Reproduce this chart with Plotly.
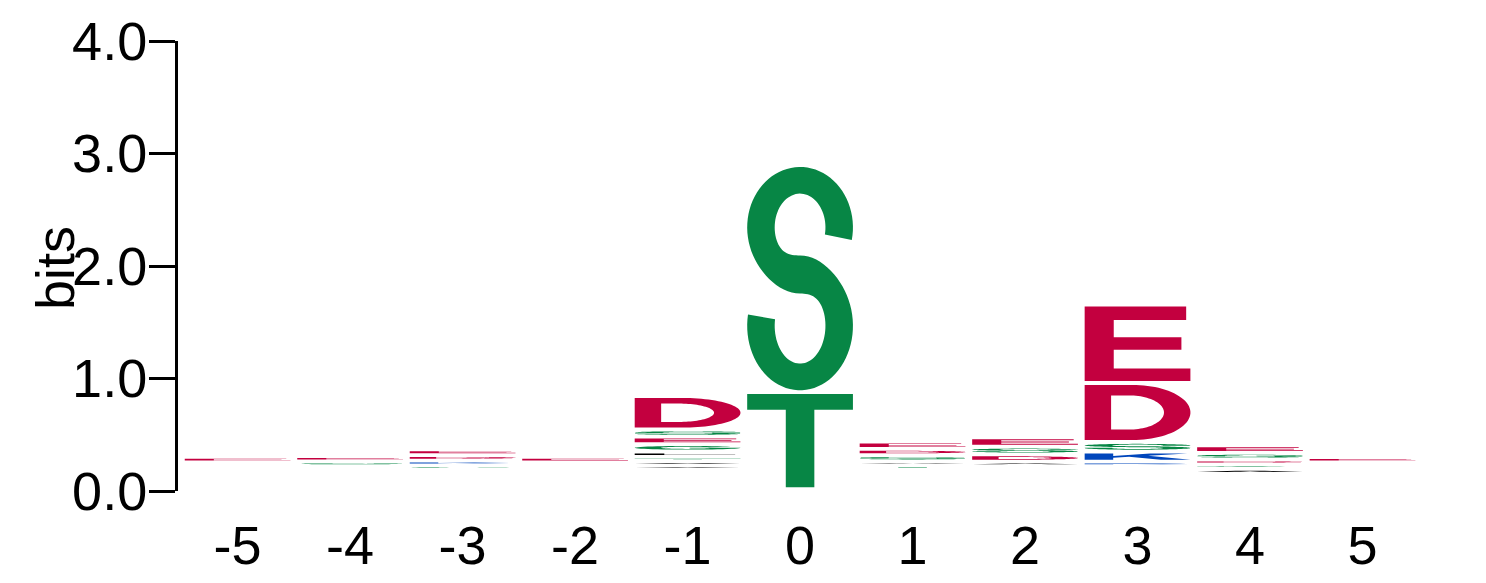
import numpy as np
import plotly.graph_objects as go

# ---------------- data ----------------
positions = [-5, -4, -3, -2, -1, 0, 1, 2, 3, 4, 5]
tick_text = ["-5", "-4", "-3", "-2", "-1", "0", "1", "2", "3", "4", "5"]

# letters listed bottom -> top, heights in bits (0 = letter present but negligible)
letters_m5 = "CWMFHYNE"
heights_m5 = [0, 0, 0, 0, 0, 0, 0, 0.014]
letters_m4 = "CWMFHYSE"
heights_m4 = [0, 0, 0, 0, 0, 0, 0.009, 0.012]
letters_m3 = "CWMFHGKDE"
heights_m3 = [0, 0, 0, 0, 0, 0.006, 0.009, 0.015, 0.018]
letters_m2 = "CWMFHYNE"
heights_m2 = [0, 0, 0, 0, 0, 0, 0, 0.015]
letters_m1 = "CWMFHAVTLGESD"
heights_m1 = [0, 0, 0, 0, 0, 0.004, 0.006, 0.004, 0.014,
              0.032, 0.032, 0.030, 0.263]
letters_0 = "TS"
heights_0 = [0.828, 1.984]
letters_p1 = "CWMFHTASDE"
heights_p1 = [0, 0, 0, 0, 0, 0.005, 0.004, 0.020, 0.022, 0.032]
letters_p2 = "CWMFHYADSE"
heights_p2 = [0, 0, 0, 0, 0, 0, 0.006, 0.030, 0.035, 0.048]
letters_p3 = "CWMFHYRKSDE"
heights_p3 = [0, 0, 0, 0, 0, 0, 0.006, 0.055, 0.052, 0.490, 0.662]
letters_p4 = "CWMFAGDSE"
heights_p4 = [0, 0, 0, 0, 0.010, 0.005, 0.010, 0.025, 0.032]
letters_p5 = "CWMFHYNE"
heights_p5 = [0, 0, 0, 0, 0, 0, 0, 0.012]

y_ticks = [0, 1, 2, 3, 4]
y_tick_text = ["0.0", "1.0", "2.0", "3.0", "4.0"]

# ---------------- style ----------------
RED = "#C3003F"
GREEN = "#078645"
BLUE = "#0046BC"
BLACK = "#000000"
PURPLE = "#7A2E8E"
letter_colors = {}
for c in "GSTYC":
    letter_colors[c] = GREEN
for c in "QN":
    letter_colors[c] = PURPLE
for c in "KRH":
    letter_colors[c] = BLUE
for c in "DE":
    letter_colors[c] = RED
for c in "AVLIPWFM":
    letter_colors[c] = BLACK

GAP = 0.034          # vertical padding under each letter (bits)
COL_W = 0.94         # letter width (x units)
FONT = "Liberation Sans, Arial, sans-serif"
FS = 54


# ---------------- glyph outlines in a unit box ----------------
def arc(cx, cy, rx, ry, a0, a1, n=48):
    t = np.radians(np.linspace(a0, a1, n))
    return list(zip(cx + rx * np.cos(t), cy + ry * np.sin(t)))


def varc(cx, cy, rx, ry, tx, ty_fn, sign, a0, a1, n=64):
    deg = np.linspace(a0, a1, n)
    t = np.radians(deg)
    ty = ty_fn(deg)
    return list(zip(cx + (rx + sign * tx) * np.cos(t), cy + (ry + sign * ty) * np.sin(t)))


def normalize(subpaths):
    pts = np.array([p for sp in subpaths for p in sp])
    x0, y0 = pts.min(axis=0)
    x1, y1 = pts.max(axis=0)
    return [[((x - x0) / (x1 - x0), (y - y0) / (y1 - y0)) for x, y in sp] for sp in subpaths]


def glyph_S():
    tx = 0.13
    cu, ryu = 0.75, 0.23
    cl, ryl = 0.27, 0.25
    rx = 0.37
    a0, a1 = -12, -190

    def ty_up(d):
        return 0.065 + 0.028 * np.exp(-((d - 270) / 45.0) ** 2)

    def ty_lo(d):
        return 0.065 + 0.028 * np.exp(-((d - 90) / 45.0) ** 2)

    pts = []
    pts += varc(0.5, cu, rx, ryu, tx, ty_up, +1, a0, 270)
    pts += varc(0.5, cl, rx, ryl, tx, ty_lo, -1, 90, a1)
    pts += varc(0.5, cl, rx, ryl, tx, ty_lo, +1, a1, 90)
    pts += varc(0.5, cu, rx, ryu, tx, ty_up, -1, 270, a0)
    return normalize([pts])


def glyph_D():
    outer = [(0, 0), (0.45, 0)] + arc(0.45, 0.5, 0.55, 0.5, -90, 90) + [(0, 1)]
    inner = [(0.25, 0.19), (0.25, 0.81), (0.42, 0.81)] + arc(0.42, 0.5, 0.33, 0.31, 90, -90)
    return normalize([outer, inner])


def glyph_G():
    outer = arc(0.5, 0.5, 0.5, 0.5, 35, 360) + [(0.52, 0.5), (0.52, 0.38), (0.74, 0.38)]
    inner = arc(0.5, 0.5, 0.25, 0.3, -25, -325)
    return normalize([outer + inner])


GLYPHS = {
    "S": glyph_S(),
    "D": glyph_D(),
    "G": glyph_G(),
    "E": [[(0, 0), (1, 0), (1, 0.17), (0.275, 0.17), (0.275, 0.42), (0.915, 0.42),
           (0.915, 0.59), (0.275, 0.59), (0.275, 0.82), (0.96, 0.82), (0.96, 1), (0, 1)]],
    "T": [[(0, 0.83), (0, 1), (1, 1), (1, 0.83), (0.635, 0.83), (0.635, 0), (0.365, 0),
           (0.365, 0.83)]],
    "K": [[(0, 0), (0.27, 0), (0.27, 0.33), (0.42, 0.48), (0.72, 0), (1, 0), (0.6, 0.66),
           (0.97, 1), (0.62, 1), (0.27, 0.62), (0.27, 1), (0, 1)]],
    "A": [[(0, 0), (0.28, 0), (0.35, 0.2), (0.65, 0.2), (0.72, 0), (1, 0), (0.64, 1), (0.36, 1)],
          [(0.41, 0.38), (0.5, 0.7), (0.59, 0.38)]],
    "L": [[(0, 0), (0.95, 0), (0.95, 0.18), (0.28, 0.18), (0.28, 1), (0, 1)]],
    "V": [[(0, 1), (0.3, 1), (0.5, 0.3), (0.7, 1), (1, 1), (0.64, 0), (0.36, 0)]],
    "R": [[(0, 0), (0.27, 0), (0.27, 0.4), (0.48, 0.4), (0.72, 0), (1, 0), (0.74, 0.44),
           (0.9, 0.55), (0.96, 0.72), (0.9, 0.9), (0.75, 1), (0, 1)],
          [(0.27, 0.58), (0.27, 0.83), (0.62, 0.83), (0.7, 0.76), (0.7, 0.65), (0.62, 0.58)]],
}
BLOCK = [[(0, 0), (1, 0), (1, 1), (0, 1)]]


def glyph_path(letter, xc, y0, h):
    subs = GLYPHS.get(letter, BLOCK)
    parts = []
    for sp in subs:
        coords = [(xc - COL_W / 2 + u * COL_W, y0 + v * h) for u, v in sp]
        s = "M{:.5f},{:.6f} ".format(*coords[0])
        s += " ".join("L{:.5f},{:.6f}".format(x, y) for x, y in coords[1:])
        parts.append(s + " Z")
    return " ".join(parts)


stacks = [
    (letters_m5, heights_m5), (letters_m4, heights_m4), (letters_m3, heights_m3),
    (letters_m2, heights_m2), (letters_m1, heights_m1), (letters_0, heights_0),
    (letters_p1, heights_p1), (letters_p2, heights_p2), (letters_p3, heights_p3),
    (letters_p4, heights_p4), (letters_p5, heights_p5),
]

shapes = []
for pos, (letters, heights) in zip(positions, stacks):
    y = 0.0
    for letter, h in zip(letters, heights):
        y += GAP
        if h > 0:
            shapes.append(dict(
                type="path", xref="x", yref="y",
                path=glyph_path(letter, pos, y, h),
                fillcolor=letter_colors.get(letter, BLACK),
                fillrule="evenodd",
                line=dict(width=0),
                layer="above",
            ))
        y += h

fig = go.Figure()
fig.add_trace(go.Scatter(x=positions, y=[0] * len(positions), mode="markers",
                         marker=dict(opacity=0), hoverinfo="skip", showlegend=False))

L_MARGIN, R_MARGIN, T_MARGIN, B_MARGIN = 178, 56, 41, 92
plot_w = 1486 - L_MARGIN - R_MARGIN
plot_h = 583 - T_MARGIN - B_MARGIN

fig.update_layout(
    width=1486, height=583,
    margin=dict(l=L_MARGIN, r=R_MARGIN, t=T_MARGIN, b=B_MARGIN, pad=0),
    paper_bgcolor="white", plot_bgcolor="white",
    shapes=shapes,
    showlegend=False,
    font=dict(family=FONT, color="black", size=FS),
    xaxis=dict(
        range=[-5.53, 5.6], tickvals=positions, ticktext=tick_text,
        showline=False, showgrid=False, zeroline=False, automargin=False,
        ticks="outside", ticklen=7, tickcolor="rgba(0,0,0,0)",
        tickfont=dict(size=FS, family=FONT, color="black"),
    ),
    yaxis=dict(
        range=[0, 4], tickvals=y_ticks, ticktext=y_tick_text,
        showline=True, linecolor="black", linewidth=3,
        showgrid=False, zeroline=False, automargin=False,
        ticks="outside", ticklen=26, tickwidth=3, tickcolor="black",
        ticklabelstandoff=-9,
        tickfont=dict(size=FS, family=FONT, color="black"),
    ),
    annotations=[dict(
        text="bits", textangle=-90, showarrow=False,
        xref="paper", yref="paper",
        x=(55 - L_MARGIN) / plot_w, y=(491 - 268) / plot_h,
        xanchor="center", yanchor="middle",
        font=dict(size=FS, family=FONT, color="black"),
    )],
)

fig.write_html("out.html")
